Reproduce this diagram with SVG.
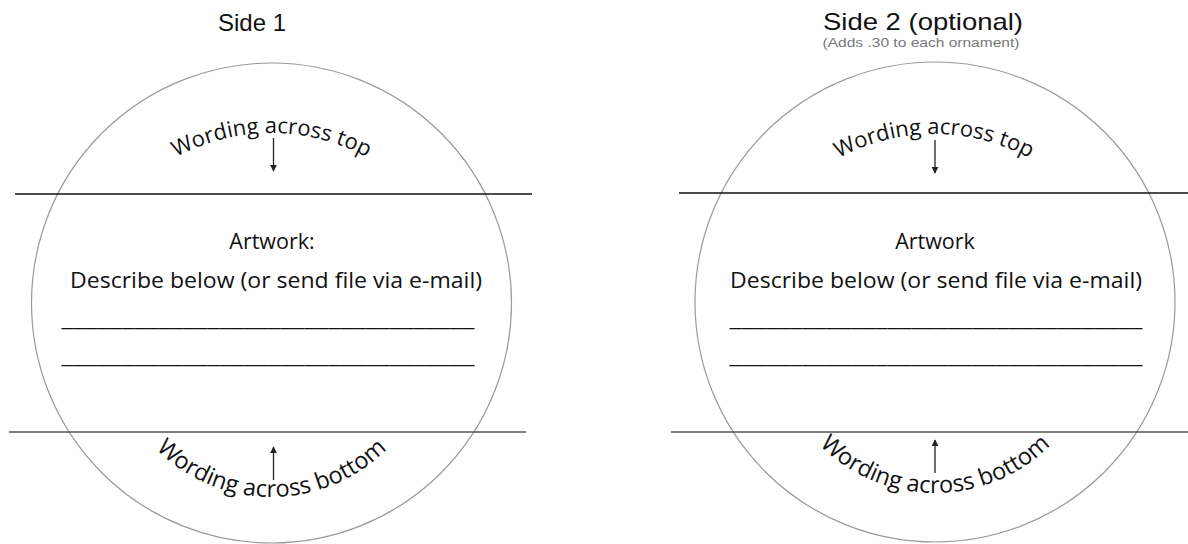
<svg xmlns="http://www.w3.org/2000/svg" width="1188" height="544" viewBox="0 0 1188 544">
<style>
.ring{fill:none;stroke:#9a9a9a;stroke-width:1.2}
.rule{stroke:#111;stroke-width:1.4}
.rule2{stroke:#555;stroke-width:1.4}
.title{font-family:"Liberation Sans",Arial,sans-serif;font-size:24px;fill:#111;text-anchor:middle}
.note{font-family:"Liberation Sans",Arial,sans-serif;font-size:12px;fill:#777;text-anchor:middle}
.body{font-family:"Open Sans","Noto Sans",sans-serif;font-size:21.5px;fill:#111;text-anchor:middle}
.arc{font-family:"Open Sans","Noto Sans",sans-serif;font-size:22px;fill:#111;text-anchor:middle}
.arcb{font-family:"Open Sans","Noto Sans",sans-serif;font-size:23.5px;fill:#111;text-anchor:middle}
.arrow{stroke:#222;stroke-width:1.3;fill:none;marker-end:url(#ah)}
</style>
<defs>
<marker id="ah" viewBox="0 0 10 10" refX="9" refY="5" markerWidth="7" markerHeight="7" markerUnits="userSpaceOnUse" orient="auto">
<path d="M0,0 L10,5 L0,10 z" fill="#222"/>
</marker>
<path id="top1" d="M71.5,333 A200 200 0 0 1 471.5,333"/>
<path id="bot1" d="M108.5,334 A163 163 0 0 0 434.5,334"/>
<path id="top2" d="M734,334 A200 200 0 0 1 1134,334"/>
<path id="bot2" d="M772,330 A163 163 0 0 0 1098,330"/>
</defs>
<rect width="1188" height="544" fill="#fff"/>

<g id="side1">
<text class="title" x="252" y="31">Side 1</text>
<circle class="ring" cx="271.5" cy="303" r="240"/>
<line class="rule" x1="15" y1="194" x2="532" y2="194"/>
<line class="rule2" x1="9" y1="432" x2="526" y2="432"/>
<text class="arc"><textPath href="#top1" startOffset="50%">Wording across top</textPath></text>
<text class="arcb"><textPath href="#bot1" startOffset="50%">Wording across bottom</textPath></text>
<text class="body" x="272" y="249">Artwork:</text>
<text class="body" x="276" y="288" textLength="412" lengthAdjust="spacingAndGlyphs">Describe below (or send file via e-mail)</text>
<text class="body" x="268" y="326" textLength="413" lengthAdjust="spacingAndGlyphs">__________________________________</text>
<text class="body" x="268" y="363" textLength="413" lengthAdjust="spacingAndGlyphs">__________________________________</text>
</g>

<g id="side2">
<text class="title" x="923" y="30" textLength="200" lengthAdjust="spacingAndGlyphs">Side 2 (optional)</text>
<text class="note" x="921" y="47" textLength="197" lengthAdjust="spacingAndGlyphs">(Adds .30 to each ornament)</text>
<circle class="ring" cx="935" cy="302" r="240"/>
<line class="rule" x1="679" y1="193" x2="1188" y2="193"/>
<line class="rule2" x1="671" y1="432" x2="1188" y2="432"/>
<text class="arc"><textPath href="#top2" startOffset="50%">Wording across top</textPath></text>
<text class="arcb"><textPath href="#bot2" startOffset="50%">Wording across bottom</textPath></text>
<text class="body" x="935" y="249">Artwork</text>
<text class="body" x="936" y="288" textLength="412" lengthAdjust="spacingAndGlyphs">Describe below (or send file via e-mail)</text>
<text class="body" x="936" y="326" textLength="413" lengthAdjust="spacingAndGlyphs">__________________________________</text>
<text class="body" x="936" y="363" textLength="413" lengthAdjust="spacingAndGlyphs">__________________________________</text>
</g>

<g id="connectors">
<line class="arrow" x1="273.5" y1="138" x2="273.5" y2="171"/>
<line class="arrow" x1="273.5" y1="480" x2="273.5" y2="447"/>
<line class="arrow" x1="935" y1="140" x2="935" y2="173"/>
<line class="arrow" x1="935" y1="473" x2="935" y2="440"/>
</g>
</svg>
